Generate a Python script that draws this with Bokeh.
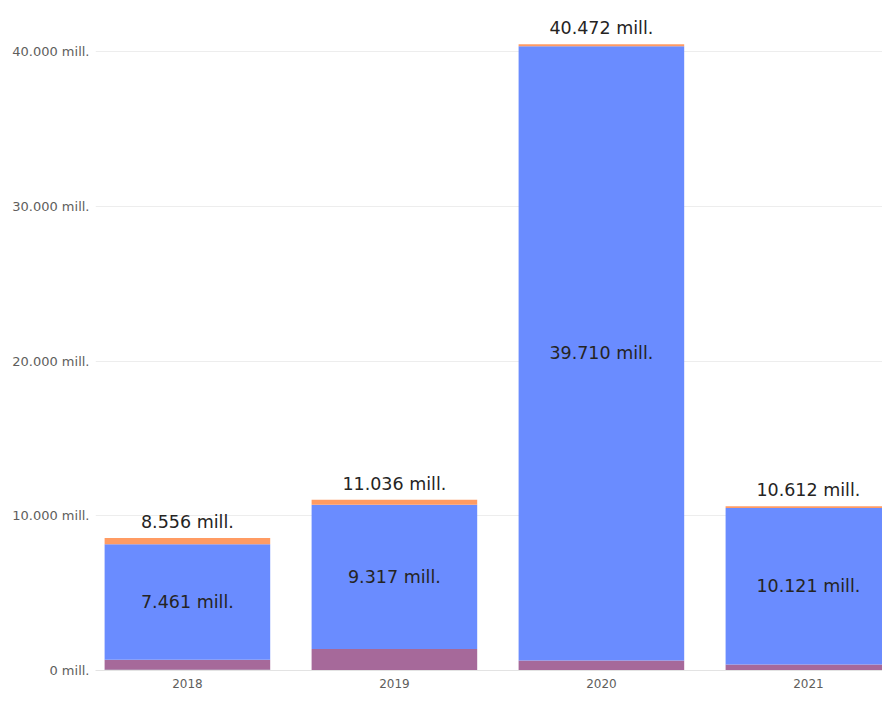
from bokeh.plotting import figure
from bokeh.models import ColumnDataSource, Range1d, FixedTicker
from bokeh.core.properties import value
from bokeh.embed import file_html
from bokeh.resources import INLINE

years = ["2018", "2019", "2020", "2021"]
teal = [50, 40, 20, 20]
purple = [645, 1350, 620, 360]
blue = [7461, 9317, 39710, 10121]
orange = [400, 329, 122, 111]
y_ticks = [0, 10000, 20000, 30000, 40000]

series = ["teal", "purple", "blue", "orange"]
colors = ["#41C1B5", "#A6699A", "#6A8CFF", "#FF9B63"]

def fmt(v):
    return f"{v:,.0f}".replace(",", ".") + " mill."

xs = list(range(len(years)))
totals = [a + b + c + d for a, b, c, d in zip(teal, purple, blue, orange)]
blue_mid = [t + p + b / 2 for t, p, b in zip(teal, purple, blue)]

src = ColumnDataSource(dict(
    x=xs, teal=teal, purple=purple, blue=blue, orange=orange,
    total=totals, total_lbl=[fmt(v) for v in totals],
    mid=blue_mid, mid_lbl=[fmt(v) for v in blue],
))

FONT = "DejaVu Sans"

p = figure(width=882, height=690, output_backend="svg", toolbar_location=None,
           x_range=Range1d(-0.444, 3.358), y_range=Range1d(0, 43300),
           min_border_left=95, min_border_right=0, min_border_top=0, min_border_bottom=10)
p.outline_line_color = None
p.background_fill_color = "white"

p.vbar_stack(series, x="x", width=0.8, color=colors, line_color=None, source=src)

p.text(x="x", y="total", text="total_lbl", source=src, text_align="center",
       text_baseline="bottom", y_offset=-6, text_font=value(FONT),
       text_font_size="17.5px", text_color="#252423")
p.text(x="x", y="mid", text="mid_lbl", source=src, text_align="center",
       text_baseline="middle", text_font=value(FONT),
       text_font_size="17.5px", text_color="#252423")

p.xgrid.grid_line_color = None
p.ygrid.grid_line_color = "#EDEDED"
p.ygrid.ticker = FixedTicker(ticks=y_ticks)

p.yaxis.ticker = FixedTicker(ticks=y_ticks)
p.yaxis.major_label_overrides = {t: fmt(t) for t in y_ticks}
p.yaxis.axis_line_color = None
p.yaxis.major_tick_line_color = None
p.yaxis.minor_tick_line_color = None
p.yaxis.major_label_text_font = FONT
p.yaxis.major_label_text_font_size = "13px"
p.yaxis.major_label_text_color = "#605E5C"
p.yaxis.major_label_standoff = 0

p.xaxis.ticker = FixedTicker(ticks=xs)
p.xaxis.major_label_overrides = {i: y for i, y in zip(xs, years)}
p.xaxis.axis_line_color = "#E3E3E3"
p.xaxis.major_tick_line_color = None
p.xaxis.minor_tick_line_color = None
p.xaxis.major_label_text_font = FONT
p.xaxis.major_label_text_font_size = "12px"
p.xaxis.major_label_text_color = "#605E5C"
p.xaxis.major_label_standoff = 2

open("out.html", "w").write(file_html(p, INLINE))
